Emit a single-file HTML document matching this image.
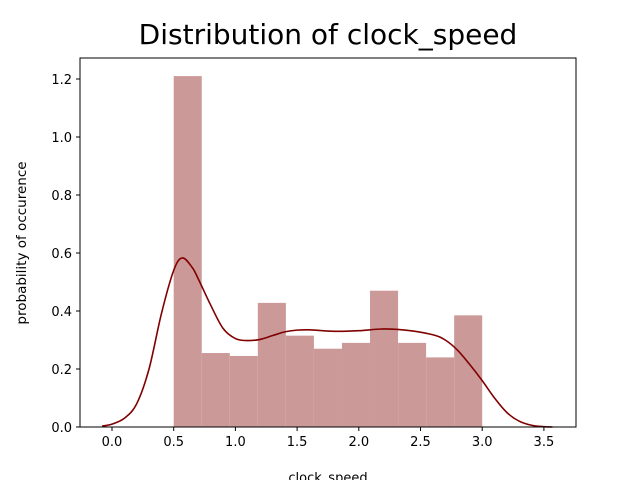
<!DOCTYPE html>
<html><head><meta charset="utf-8"><style>body{margin:0;background:#fff}svg{display:block;font-family:"DejaVu Sans","Liberation Sans",sans-serif}</style></head>
<body>
<svg id="c" width="640" height="480"></svg>
<script>
const binEdgesStart = 0.5;
const binWidth = 2.5/11;
const barHeights = [1.21,0.255,0.245,0.428,0.315,0.27,0.29,0.47,0.29,0.24,0.385];
const kdeX = [-0.08,0,0.1,0.2,0.3,0.4,0.5,0.57,0.65,0.7,0.8,0.9,1.0,1.1,1.2,1.3,1.4,1.5,1.6,1.8,2.0,2.2,2.4,2.6,2.7,2.8,2.9,3.0,3.1,3.2,3.3,3.4,3.5,3.57];
const kdeY = [0.003,0.01,0.03,0.08,0.2,0.39,0.54,0.583,0.55,0.51,0.42,0.34,0.305,0.298,0.302,0.315,0.328,0.334,0.335,0.33,0.332,0.338,0.333,0.318,0.3,0.265,0.215,0.16,0.1,0.05,0.02,0.006,0.001,0];
const xTicks = [0.0,0.5,1.0,1.5,2.0,2.5,3.0,3.5];
const yTicks = [0.0,0.2,0.4,0.6,0.8,1.0,1.2];
const X = v => 112 + v*123.4;
const Y = v => 427 - v*290;
const svg = document.getElementById('c');
const NS='http://www.w3.org/2000/svg';
function mk(t,a,txt){const e=document.createElementNS(NS,t);for(const k in a)e.setAttribute(k,a[k]);if(txt!==undefined)e.textContent=txt;svg.appendChild(e);return e;}
barHeights.forEach((h,i)=>{const x0=X(binEdgesStart+i*binWidth),x1=X(binEdgesStart+(i+1)*binWidth);
const r=mk('rect',{x:x0,y:Y(h),width:x1-x0,height:Y(0)-Y(h),fill:'#cc9999'});

});
const pts=kdeX.map((x,i)=>[X(x),Y(kdeY[i])]);
let d='M'+pts[0][0]+','+pts[0][1];
for(let i=0;i<pts.length-1;i++){const p0=pts[Math.max(0,i-1)],p1=pts[i],p2=pts[i+1],p3=pts[Math.min(pts.length-1,i+2)];
d+='C'+(p1[0]+(p2[0]-p0[0])/6)+','+(p1[1]+(p2[1]-p0[1])/6)+' '+(p2[0]-(p3[0]-p1[0])/6)+','+(p2[1]-(p3[1]-p1[1])/6)+' '+p2[0]+','+p2[1];}
const p=mk('path',{d:d,fill:'none',stroke:'#800000','stroke-width':1.6});


const ax=mk('rect',{x:80,y:58,width:496,height:369,fill:'none',stroke:'#000','stroke-width':1});


xTicks.forEach(v=>{mk('line',{x1:X(v),x2:X(v),y1:427,y2:431,stroke:'#000'});
const t=mk('text',{x:X(v),y:446,'font-size':13,'text-anchor':'middle'},v.toFixed(1));

});
yTicks.forEach(v=>{mk('line',{x1:76,x2:80,y1:Y(v),y2:Y(v),stroke:'#000'});
const t=mk('text',{x:72,y:Y(v)+5,'font-size':13,'text-anchor':'end'},v.toFixed(1));

});
const ti=mk('text',{x:328,y:44,'font-size':28,'text-anchor':'middle'},'Distribution of clock_speed');


const xl=mk('text',{x:328,y:482,'font-size':13,'text-anchor':'middle'},'clock_speed');


const yl=mk('text',{x:26,y:243,'font-size':13.5,'text-anchor':'middle',transform:'rotate(-90 26 243)'},'probability of occurence');


</script>
</body></html>
